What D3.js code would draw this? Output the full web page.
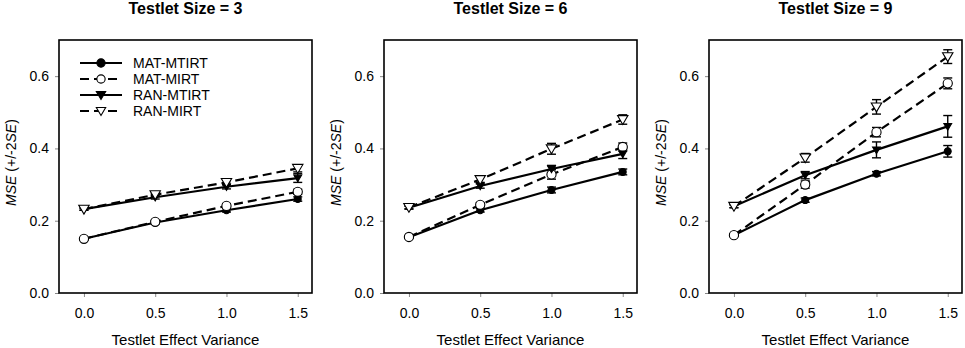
<!DOCTYPE html>
<html>
<head>
<meta charset="utf-8">
<script src="https://cdn.jsdelivr.net/npm/d3@7"></script>
<style>
  body { margin: 0; background: #fff; }
  text { font-family: Arial, "Liberation Sans", sans-serif; fill: #000; }
</style>
</head>
<body>
<div id="wrapper"></div>
<script>
// DATA
const varianceLevels = [0, 0.5, 1.0, 1.5]
const testletSizes = [3, 6, 9]
const seriesNames = ["MAT-MTIRT", "MAT-MIRT", "RAN-MTIRT", "RAN-MIRT"]
const yTicks = [0.0, 0.2, 0.4, 0.6]

// one row per testlet size (3, 6, 9), values at each variance level
const matMtirt = [[0.150, 0.195, 0.229, 0.260], [0.154, 0.229, 0.285, 0.335], [0.160, 0.257, 0.330, 0.392]]
const matMirt  = [[0.150, 0.197, 0.241, 0.280], [0.155, 0.244, 0.328, 0.404], [0.160, 0.300, 0.445, 0.580]]
const ranMtirt = [[0.232, 0.265, 0.294, 0.318], [0.236, 0.296, 0.343, 0.385], [0.240, 0.326, 0.396, 0.461]]
const ranMirt  = [[0.232, 0.272, 0.306, 0.345], [0.237, 0.314, 0.399, 0.480], [0.240, 0.374, 0.515, 0.654]]

// +/- 2SE half widths
const matMtirtErr = [[0.003, 0.004, 0.005, 0.006], [0.003, 0.005, 0.008, 0.008], [0.003, 0.006, 0.006, 0.016]]
const matMirtErr  = [[0.003, 0.004, 0.006, 0.007], [0.003, 0.006, 0.013, 0.011], [0.003, 0.010, 0.013, 0.015]]
const ranMtirtErr = [[0.003, 0.005, 0.006, 0.012], [0.004, 0.006, 0.010, 0.013], [0.004, 0.010, 0.022, 0.030]]
const ranMirtErr  = [[0.003, 0.005, 0.007, 0.010], [0.004, 0.008, 0.015, 0.013], [0.004, 0.012, 0.020, 0.019]]

const seriesValues = [matMtirt, matMirt, ranMtirt, ranMirt]
const seriesErrors = [matMtirtErr, matMirtErr, ranMtirtErr, ranMirtErr]
const seriesDashed = [false, true, false, true]
const seriesFilled = [true, false, true, false]
const seriesShape = ["circle", "circle", "triangle", "triangle"]

// DIMENSIONS
const dimensions = {
  width: 965,
  height: 348,
  panelLeft: [59, 384, 709],
  panelTop: 40,
  panelSize: 253
}

const svg = d3.select("#wrapper")
  .append("svg")
  .attr("width", dimensions.width)
  .attr("height", dimensions.height)

const xScale = d3.scaleLinear().domain([-0.175, 1.6]).range([0, dimensions.panelSize])
const yScale = d3.scaleLinear().domain([0, 0.7]).range([dimensions.panelSize, 0])

const lineGen = d3.line()
  .x(d => xScale(d.x))
  .y(d => yScale(d.y))

const circleSymbol = d3.symbol().type(d3.symbolCircle).size(Math.PI * 4.6 * 4.6)
// downward triangle
const triPath = (s) => `M${-s},${-s * 0.75}L${s},${-s * 0.75}L0,${s * 0.95}Z`

function drawMarker(g, shape, filled, cx, cy, scale = 1) {
  const m = shape === "circle"
    ? g.append("path").attr("d", circleSymbol()).attr("transform", `translate(${cx},${cy}) scale(${scale})`)
    : g.append("path").attr("d", triPath(5.2)).attr("transform", `translate(${cx},${cy}) scale(${scale})`)
  m.attr("fill", filled ? "#000" : "#fff")
    .attr("stroke", "#000")
    .attr("stroke-width", 1.1 / scale)
}

testletSizes.forEach((size, p) => {
  const g = svg.append("g")
    .attr("transform", `translate(${dimensions.panelLeft[p]},${dimensions.panelTop})`)

  // title
  g.append("text")
    .attr("x", dimensions.panelSize / 2)
    .attr("y", -26)
    .attr("text-anchor", "middle")
    .style("font-size", "16px")
    .style("font-weight", "bold")
    .text(`Testlet Size = ${size}`)

  // axes
  const yAxis = g.append("g")
    .call(d3.axisLeft(yScale).tickValues(yTicks).tickFormat(d3.format(".1f")).tickSize(4).tickPadding(6))
  const xAxis = g.append("g")
    .attr("transform", `translate(0,${dimensions.panelSize})`)
    .call(d3.axisBottom(xScale).tickValues(varianceLevels).tickFormat(d3.format(".1f")).tickSize(4).tickPadding(11))
  ;[yAxis, xAxis].forEach(ax => {
    ax.select(".domain").remove()
    ax.selectAll(".tick line").attr("stroke", "#888").attr("stroke-width", 1)
    ax.selectAll(".tick text").style("font-size", "14px").attr("fill", "#000")
      .style("font-family", "Arial, 'Liberation Sans', sans-serif")
  })

  // axis labels
  g.append("text")
    .attr("x", dimensions.panelSize / 2)
    .attr("y", dimensions.panelSize + 52)
    .attr("text-anchor", "middle")
    .style("font-size", "15px")
    .text("Testlet Effect Variance")

  const yl = g.append("text")
    .attr("transform", `translate(-43,${dimensions.panelSize / 2 - 4}) rotate(-90)`)
    .attr("text-anchor", "middle")
    .style("font-size", "14px")
  yl.append("tspan").style("font-style", "italic").text("MSE")
  yl.append("tspan").text(" (+/-2")
  yl.append("tspan").style("font-style", "italic").text("SE")
  yl.append("tspan").text(")")

  // lines
  seriesValues.forEach((vals, s) => {
    const pts = varianceLevels.map((x, i) => ({ x, y: vals[p][i] }))
    g.append("path")
      .attr("d", lineGen(pts))
      .attr("fill", "none")
      .attr("stroke", "#000")
      .attr("stroke-width", 2.2)
      .attr("stroke-dasharray", seriesDashed[s] ? "9,5" : null)
  })

  // error bars
  seriesValues.forEach((vals, s) => {
    varianceLevels.forEach((x, i) => {
      const e = seriesErrors[s][p][i]
      const cx = xScale(x)
      const y0 = yScale(vals[p][i] - e)
      const y1 = yScale(vals[p][i] + e)
      const eb = g.append("g").attr("stroke", "#000").attr("stroke-width", 1.4)
      eb.append("line").attr("x1", cx).attr("x2", cx).attr("y1", y0).attr("y2", y1)
      eb.append("line").attr("x1", cx - 4.5).attr("x2", cx + 4.5).attr("y1", y0).attr("y2", y0)
      eb.append("line").attr("x1", cx - 4.5).attr("x2", cx + 4.5).attr("y1", y1).attr("y2", y1)
    })
  })

  // markers (filled ones plot a little smaller)
  seriesValues.forEach((vals, s) => {
    varianceLevels.forEach((x, i) => {
      drawMarker(g, seriesShape[s], seriesFilled[s], xScale(x), yScale(vals[p][i]), seriesFilled[s] ? 0.75 : 1)
    })
  })

  // frame
  g.append("rect")
    .attr("width", dimensions.panelSize)
    .attr("height", dimensions.panelSize)
    .attr("fill", "none")
    .attr("stroke", "#000")
    .attr("stroke-width", 1.6)

  // legend only in first panel
  if (p === 0) {
    const legend = g.append("g").attr("transform", "translate(21,23)")
    seriesNames.forEach((name, s) => {
      const row = legend.append("g").attr("transform", `translate(0,${s * 16})`)
      row.append("line")
        .attr("x1", 0).attr("x2", 42).attr("y1", 0).attr("y2", 0)
        .attr("stroke", "#000").attr("stroke-width", 2.2)
        .attr("stroke-dasharray", seriesDashed[s] ? "9,5" : null)
      drawMarker(row, seriesShape[s], seriesFilled[s], 21, 0, 0.9)
      row.append("text")
        .attr("x", 53)
        .attr("y", 5)
        .style("font-size", "14px")
        .text(name)
    })
  }
})
</script>
</body>
</html>
